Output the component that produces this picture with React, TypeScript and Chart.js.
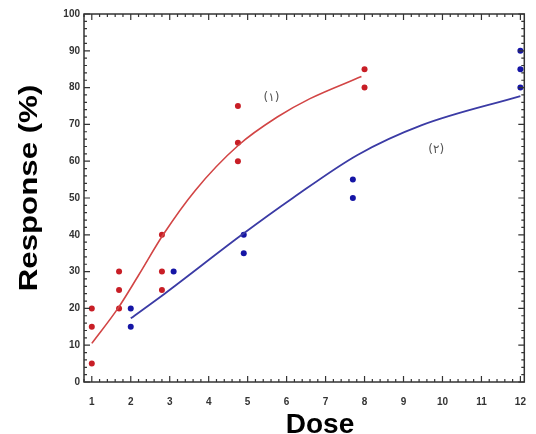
import React, { useEffect, useRef } from "react";
import { Chart, registerables } from "chart.js";

Chart.register(...registerables);

// ---- data ----
const xTicks = [1, 2, 3, 4, 5, 6, 7, 8, 9, 10, 11, 12];
const yTicks = [0, 10, 20, 30, 40, 50, 60, 70, 80, 90, 100];

const redPointsX = [1, 1, 1, 1.7, 1.7, 1.7, 2.8, 2.8, 2.8, 4.75, 4.75, 4.75, 8, 8];
const redPointsY = [20, 15, 5, 30, 25, 20, 40, 30, 25, 75, 65, 60, 85, 80];

const bluePointsX = [2, 2, 3.1, 4.9, 4.9, 7.7, 7.7, 12, 12, 12];
const bluePointsY = [20, 15, 30, 40, 35, 55, 50, 90, 85, 80];

const redCurveX = [1, 1.67, 2.2, 2.83, 3.65, 4.77, 5.76, 6.6, 7.92];
const redCurveY = [10.5, 20, 29, 40, 52, 64.4, 72, 77, 83];

const blueCurveX = [2, 2.87, 4.85, 6.16, 7.82, 9.47, 12];
const blueCurveY = [17.3, 24, 40, 50, 61.7, 69.8, 77.7];

const curveLabels = ["(١)", "(٢)"];
const curveLabelX = [5.61, 9.84];
const curveLabelY = [77.2, 63];

const xTitle = "Dose";
const yTitle = "Response (%)";

const FONT = "'Liberation Sans', Arial, sans-serif";

const zip = (xs: number[], ys: number[]) => xs.map((x, i) => ({ x, y: ys[i] }));

const framePlugin = {
  id: "frameTicks",
  afterDatasetsDraw(chart: any) {
    const { ctx, chartArea } = chart;
    const xs = chart.scales.x;
    const ys = chart.scales.y;
    const { left, right, top, bottom } = chartArea;
    ctx.save();
    ctx.strokeStyle = "#333";
    ctx.lineWidth = 1.5;
    ctx.strokeRect(left, top, right - left, bottom - top);
    ctx.lineWidth = 1.2;
    ctx.beginPath();
    // x ticks (bottom & top)
    for (let i = 0; i <= 60; i++) {
      const v = 0.8 + i * 0.2;
      const val = Math.round(v * 10) / 10;
      if (val > xs.max + 1e-9) break;
      const px = xs.getPixelForValue(val);
      const major = Math.abs(val - Math.round(val)) < 1e-6;
      const len = major ? 6 : 3;
      ctx.moveTo(px, bottom);
      ctx.lineTo(px, bottom - len);
      ctx.moveTo(px, top);
      ctx.lineTo(px, top + len);
    }
    // y ticks (left & right)
    for (let v = 0; v <= 100; v += 2) {
      const py = ys.getPixelForValue(v);
      const major = v % 10 === 0;
      const len = major ? 6 : 3;
      ctx.moveTo(left, py);
      ctx.lineTo(left + len, py);
      ctx.moveTo(right, py);
      ctx.lineTo(right - len, py);
    }
    ctx.stroke();

    // curve labels
    ctx.fillStyle = "#555";
    ctx.font = "12px 'DejaVu Sans', sans-serif";
    ctx.textAlign = "center";
    ctx.textBaseline = "middle";
    curveLabels.forEach((t, i) => {
      ctx.fillText(t, xs.getPixelForValue(curveLabelX[i]), ys.getPixelForValue(curveLabelY[i]));
    });

    // axis titles
    ctx.fillStyle = "#000";
    ctx.font = `bold 28px ${FONT}`;
    ctx.textAlign = "center";
    ctx.textBaseline = "alphabetic";
    ctx.fillText(xTitle, 320, 433);

    ctx.save();
    ctx.translate(37, 188);
    ctx.rotate(-Math.PI / 2);
    ctx.scale(1.25, 1);
    ctx.font = `bold 25px ${FONT}`;
    ctx.textAlign = "center";
    ctx.textBaseline = "alphabetic";
    ctx.fillText(yTitle, 0, 0);
    ctx.restore();

    ctx.restore();
  },
};

export default function App() {
  const ref = useRef<HTMLCanvasElement>(null);

  useEffect(() => {
    if (!ref.current) return;
    const chart = new Chart(ref.current, {
      type: "scatter",
      data: {
        datasets: [
          {
            data: zip(redCurveX, redCurveY),
            showLine: true,
            borderColor: "#d24545",
            borderWidth: 1.6,
            pointRadius: 0,
            cubicInterpolationMode: "monotone",
          } as any,
          {
            data: zip(blueCurveX, blueCurveY),
            showLine: true,
            borderColor: "#3b3ba5",
            borderWidth: 1.8,
            pointRadius: 0,
            cubicInterpolationMode: "monotone",
          } as any,
          {
            data: zip(redPointsX, redPointsY),
            pointRadius: 3,
            pointBackgroundColor: "#c81e26",
            pointBorderWidth: 0,
            borderWidth: 0,
          } as any,
          {
            data: zip(bluePointsX, bluePointsY),
            pointRadius: 3,
            pointBackgroundColor: "#1515a5",
            pointBorderWidth: 0,
            borderWidth: 0,
          } as any,
        ],
      },
      options: {
        responsive: false,
        animation: false,
        layout: { padding: { top: 14, right: 1, bottom: 0, left: 0 } },
        plugins: { legend: { display: false }, tooltip: { enabled: false } },
        scales: {
          x: {
            type: "linear",
            min: 0.8,
            max: 12.1,
            afterBuildTicks: (s: any) => {
              s.ticks = xTicks.map((v) => ({ value: v }));
            },
            afterFit: (s: any) => {
              s.height = 52;
            },
            grid: { display: false, drawTicks: false },
            border: { display: false },
            ticks: {
              padding: 14,
              color: "#333",
              font: { size: 10, weight: "bold", family: FONT },
            },
          },
          y: {
            type: "linear",
            min: 0,
            max: 100,
            afterBuildTicks: (s: any) => {
              s.ticks = yTicks.map((v) => ({ value: v }));
            },
            afterFit: (s: any) => {
              s.width = 84;
            },
            grid: { display: false, drawTicks: false },
            border: { display: false },
            ticks: {
              padding: 4,
              color: "#333",
              font: { size: 10, weight: "bold", family: FONT },
            },
          },
        },
      } as any,
      plugins: [framePlugin],
    });
    return () => chart.destroy();
  }, []);

  return (
    <div
      style={{
        position: "fixed",
        left: 0,
        top: 0,
        width: 536,
        height: 434,
        overflow: "hidden",
        background: "#fff",
      }}
    >
      <canvas ref={ref} width={540} height={434} style={{ width: 540, height: 434, display: "block" }} />
    </div>
  );
}
